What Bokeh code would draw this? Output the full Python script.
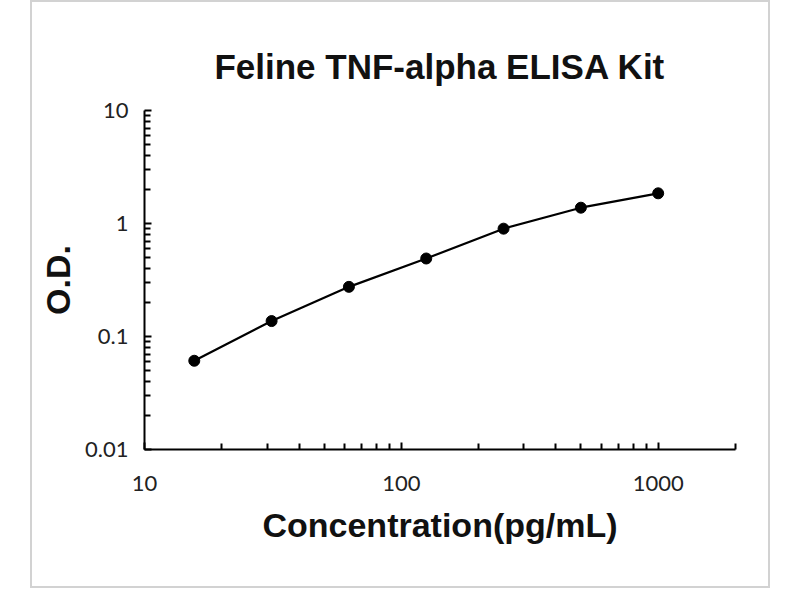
from bokeh.plotting import figure
from bokeh.models import Range1d, FixedTicker, ColumnDataSource, CustomJSTickFormatter
from bokeh.embed import file_html
from bokeh.resources import INLINE

# Data
concentration = [15.625, 31.25, 62.5, 125, 250, 500, 1000]
od = [0.061, 0.137, 0.275, 0.49, 0.90, 1.38, 1.85]

title_text = "Feline TNF-alpha ELISA Kit"
x_label = "Concentration(pg/mL)"
y_label = "O.D."

x_major = [10, 100, 1000]
x_minor = [20, 30, 40, 50, 60, 70, 80, 90, 200, 300, 400, 500, 600, 700, 800, 900, 2000]
y_major = [0.01, 0.1, 1, 10]
y_minor = [0.02, 0.03, 0.04, 0.05, 0.06, 0.07, 0.08, 0.09,
           0.2, 0.3, 0.4, 0.5, 0.6, 0.7, 0.8, 0.9,
           2, 3, 4, 5, 6, 7, 8, 9]

p = figure(width=740, height=588, x_axis_type="log", y_axis_type="log",
           x_range=Range1d(10, 2000), y_range=Range1d(0.01, 10),
           output_backend="svg", toolbar_location=None,
           min_border_left=112, min_border_right=37,
           min_border_top=108, min_border_bottom=141,
           margin=(0, 0, 0, 30),
           styles={"border": "2px solid #d2d2d2"})

p.title.text = title_text
p.title.align = "center"
p.title.text_font = "Liberation Sans"
p.title.text_font_style = "bold"
p.title.text_font_size = "35px"
p.title.text_color = "#111111"
p.title.standoff = 50

p.outline_line_color = None
p.xgrid.visible = False
p.ygrid.visible = False
p.background_fill_color = "white"
p.border_fill_color = "white"

p.xaxis.ticker = FixedTicker(ticks=x_major, minor_ticks=x_minor)
p.yaxis.ticker = FixedTicker(ticks=y_major, minor_ticks=y_minor)

for ax in (p.xaxis, p.yaxis):
    ax.axis_line_color = "black"
    ax.axis_line_width = 2
    ax.major_tick_in = 7
    ax.major_tick_out = 0
    ax.minor_tick_in = 6
    ax.minor_tick_out = 0
    ax.major_tick_line_width = 2
    ax.minor_tick_line_width = 2
    ax.major_tick_line_color = "black"
    ax.minor_tick_line_color = "black"
    ax.major_label_text_font = "Lato"
    ax.major_label_text_font_size = "22px"
    ax.major_label_text_color = "#222222"
    ax.axis_label_text_font = "Liberation Sans"
    ax.axis_label_text_font_style = "bold"
    ax.axis_label_text_color = "#111111"

p.xaxis.axis_label = x_label
p.yaxis.axis_label = y_label
p.xaxis.axis_label_text_font_size = "34px"
p.yaxis.axis_label_text_font_size = "34px"
p.xaxis.major_label_standoff = 26
p.yaxis.major_label_standoff = 16
p.xaxis.axis_label_standoff = 12
p.yaxis.axis_label_standoff = 5

p.xaxis.formatter = CustomJSTickFormatter(code="return tick.toString();")
p.yaxis.formatter = CustomJSTickFormatter(code="return tick.toString();")

src = ColumnDataSource(dict(x=concentration, y=od))
p.line("x", "y", source=src, line_color="black", line_width=2.2)
p.scatter("x", "y", source=src, size=11, fill_color="black", line_color="black")

open("out.html", "w").write(file_html(p, INLINE))
